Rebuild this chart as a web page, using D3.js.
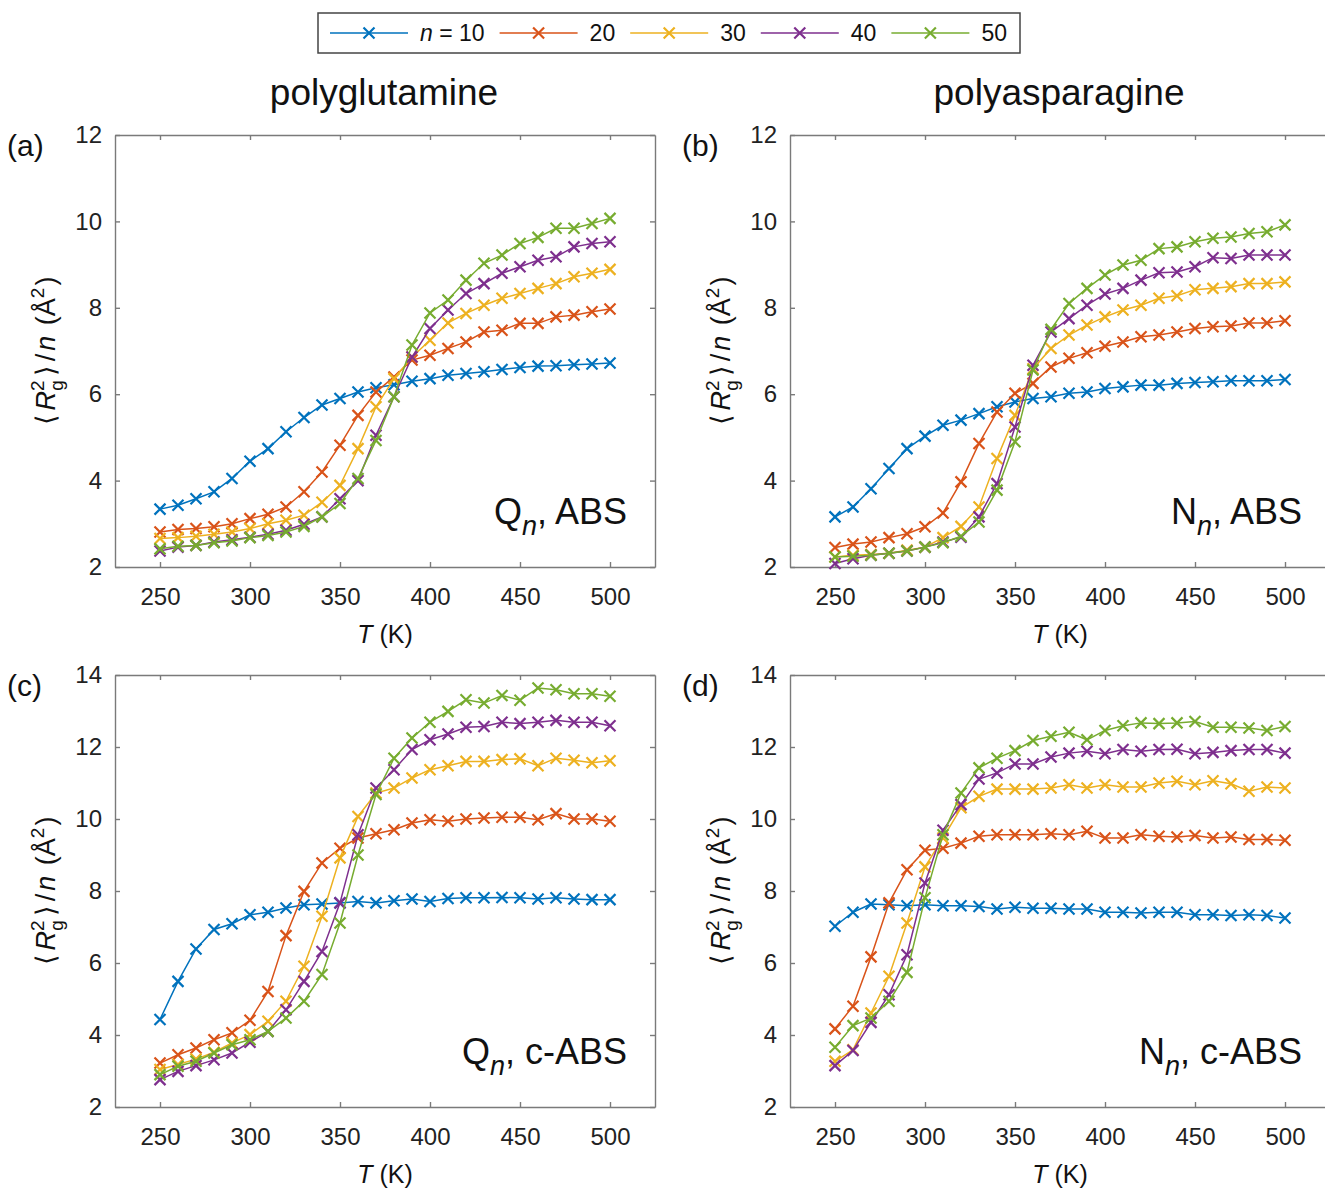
<!doctype html>
<html lang="en">
<head>
  <meta charset="utf-8">
  <title>Rg2/n vs T</title>
  <style>
    body { margin: 0; background: #fff; }
    svg { display: block; font-family: "Liberation Sans", Arial, Helvetica, sans-serif; }
    .axis path, .axis line { stroke: #7a7a7a; stroke-width: 1.4; }
    .axis text { fill: #222; font-size: 24px; font-family: "Liberation Sans", Arial, sans-serif; }
    .series path { fill: none; stroke-width: 1.5; }
    .series .mk { stroke-width: 2.2; }
  </style>
</head>
<body>
  <div id="chart"></div>
  <script src="https://cdn.jsdelivr.net/npm/d3@7"></script>
  <script>
// temperatures (K)
var temps = [250,260,270,280,290,300,310,320,330,340,350,360,370,380,390,400,410,420,430,440,450,460,470,480,490,500];
var chainLengths = ["10", "20", "30", "40", "50"];
var colors = ["#0072BD", "#D95319", "#EDB120", "#7E2F8E", "#77AC30"];
var xTicks = [250, 300, 350, 400, 450, 500];

// (a) polyglutamine, ABS
var a10 = [3.34,3.43,3.58,3.74,4.05,4.45,4.74,5.13,5.46,5.75,5.90,6.05,6.15,6.22,6.30,6.36,6.44,6.48,6.52,6.57,6.62,6.65,6.66,6.68,6.70,6.72];
var a20 = [2.81,2.87,2.89,2.93,3.00,3.12,3.22,3.39,3.74,4.20,4.82,5.51,6.05,6.40,6.79,6.90,7.06,7.21,7.44,7.48,7.64,7.64,7.79,7.83,7.91,7.97];
var a30 = [2.66,2.68,2.71,2.76,2.81,2.89,3.00,3.08,3.20,3.50,3.89,4.74,5.71,6.36,6.86,7.25,7.65,7.87,8.06,8.22,8.33,8.45,8.56,8.72,8.80,8.89];
var a40 = [2.37,2.46,2.50,2.58,2.63,2.69,2.76,2.85,2.99,3.16,3.58,4.00,5.05,5.94,6.86,7.52,7.95,8.33,8.56,8.80,8.95,9.10,9.18,9.41,9.49,9.53];
var a50 = [2.42,2.48,2.50,2.56,2.60,2.68,2.73,2.81,2.94,3.16,3.47,4.05,4.93,5.94,7.14,7.88,8.18,8.64,9.03,9.22,9.49,9.63,9.84,9.84,9.95,10.07];

// (b) polyasparagine, ABS
var b10 = [3.16,3.39,3.81,4.28,4.74,5.03,5.28,5.40,5.55,5.71,5.82,5.90,5.94,6.02,6.05,6.13,6.17,6.21,6.21,6.25,6.27,6.29,6.31,6.31,6.31,6.34];
var b20 = [2.45,2.53,2.58,2.68,2.77,2.93,3.25,3.97,4.86,5.59,6.02,6.25,6.63,6.83,6.96,7.11,7.21,7.33,7.37,7.44,7.52,7.56,7.58,7.65,7.65,7.70];
var b30 = [2.23,2.27,2.29,2.32,2.39,2.46,2.68,2.94,3.39,4.51,5.51,6.59,7.06,7.37,7.60,7.79,7.95,8.06,8.22,8.28,8.42,8.45,8.49,8.56,8.56,8.60];
var b40 = [2.08,2.19,2.27,2.32,2.37,2.46,2.58,2.69,3.16,3.93,5.24,6.67,7.44,7.75,8.06,8.32,8.45,8.64,8.81,8.83,8.95,9.16,9.14,9.22,9.22,9.22];
var b50 = [2.23,2.25,2.27,2.32,2.37,2.46,2.56,2.71,3.04,3.78,4.90,6.56,7.50,8.10,8.45,8.76,8.99,9.10,9.37,9.41,9.53,9.61,9.64,9.72,9.76,9.92];

// (c) polyglutamine, c-ABS
var c10 = [4.43,5.49,6.39,6.93,7.09,7.34,7.41,7.53,7.62,7.64,7.67,7.71,7.67,7.73,7.78,7.71,7.79,7.81,7.81,7.82,7.81,7.78,7.81,7.78,7.76,7.76];
var c20 = [3.22,3.45,3.64,3.87,4.06,4.41,5.21,6.76,7.99,8.78,9.19,9.47,9.59,9.70,9.89,9.98,9.94,10.00,10.03,10.05,10.05,9.98,10.15,10.00,10.00,9.94];
var c30 = [3.04,3.18,3.33,3.52,3.78,4.01,4.38,4.94,5.91,7.30,8.92,10.07,10.72,10.86,11.14,11.37,11.48,11.60,11.60,11.65,11.67,11.48,11.69,11.63,11.56,11.62];
var c40 = [2.76,2.99,3.15,3.31,3.50,3.80,4.10,4.70,5.49,6.32,7.67,9.56,10.86,11.37,11.93,12.20,12.36,12.55,12.57,12.69,12.65,12.69,12.74,12.69,12.69,12.59];
var c50 = [2.90,3.13,3.27,3.50,3.73,3.87,4.10,4.47,4.94,5.68,7.11,9.00,10.68,11.69,12.25,12.69,12.99,13.31,13.22,13.43,13.30,13.64,13.59,13.48,13.48,13.41];

// (d) polyasparagine, c-ABS
var d10 = [7.02,7.41,7.64,7.62,7.59,7.62,7.59,7.59,7.57,7.50,7.55,7.52,7.52,7.50,7.50,7.41,7.41,7.39,7.41,7.41,7.34,7.34,7.32,7.34,7.32,7.25];
var d20 = [4.17,4.80,6.17,7.67,8.59,9.13,9.19,9.33,9.52,9.56,9.56,9.56,9.59,9.56,9.66,9.47,9.47,9.56,9.52,9.50,9.54,9.47,9.50,9.43,9.43,9.41];
var d30 = [3.27,3.59,4.61,5.63,7.11,8.67,9.47,10.31,10.63,10.83,10.83,10.83,10.86,10.95,10.86,10.95,10.89,10.89,11.00,11.05,10.95,11.06,10.98,10.77,10.89,10.86];
var d40 = [3.15,3.57,4.35,5.12,6.23,8.22,9.69,10.40,11.11,11.28,11.53,11.53,11.72,11.83,11.88,11.81,11.93,11.88,11.93,11.94,11.81,11.85,11.90,11.93,11.93,11.83];
var d50 = [3.66,4.26,4.47,4.94,5.74,7.81,9.56,10.72,11.42,11.69,11.90,12.18,12.30,12.41,12.20,12.46,12.59,12.67,12.65,12.67,12.71,12.55,12.55,12.53,12.46,12.57];

(function() {
  var width = 1325, height = 1192;
  var boxW = 540, boxH = 432;

  var panels = [
    { tag: "(a)", left: 115, top: 135, yMax: 12, res: "Q", model: "ABS",   data: [a10, a20, a30, a40, a50] },
    { tag: "(b)", left: 790, top: 135, yMax: 12, res: "N", model: "ABS",   data: [b10, b20, b30, b40, b50] },
    { tag: "(c)", left: 115, top: 675, yMax: 14, res: "Q", model: "c-ABS", data: [c10, c20, c30, c40, c50] },
    { tag: "(d)", left: 790, top: 675, yMax: 14, res: "N", model: "c-ABS", data: [d10, d20, d30, d40, d50] }
  ];

  var svg = d3.select("#chart").append("svg")
      .attr("width", width)
      .attr("height", height);

  // cross marker, drawn around (0,0)
  var cross = function(sel, r) {
    sel.append("path").attr("class", "mk")
      .attr("d", "M" + (-r) + "," + (-r) + "L" + r + "," + r + "M" + (-r) + "," + r + "L" + r + "," + (-r));
  };

  // column titles
  svg.append("text").attr("x", 384).attr("y", 105).attr("text-anchor", "middle")
     .style("font-size", "37px").attr("fill", "#111").text("polyglutamine");
  svg.append("text").attr("x", 1059).attr("y", 105).attr("text-anchor", "middle")
     .style("font-size", "37px").attr("fill", "#111").text("polyasparagine");

  panels.forEach(function(p) {
    var x = d3.scaleLinear().domain([225, 525]).range([p.left, p.left + boxW]);
    var y = d3.scaleLinear().domain([2, p.yMax]).range([p.top + boxH, p.top]);
    var yTicks = d3.range(2, p.yMax + 1, 2);

    var g = svg.append("g");

    g.append("g").attr("class", "axis")
      .attr("transform", "translate(0," + (p.top + boxH) + ")")
      .call(d3.axisBottom(x).tickValues(xTicks).tickSizeInner(-5).tickSizeOuter(0).tickPadding(21));
    g.append("g").attr("class", "axis")
      .attr("transform", "translate(0," + p.top + ")")
      .call(d3.axisTop(x).tickValues(xTicks).tickSizeInner(-5).tickSizeOuter(0).tickFormat(""));
    g.append("g").attr("class", "axis")
      .attr("transform", "translate(" + p.left + ",0)")
      .call(d3.axisLeft(y).tickValues(yTicks).tickSizeInner(-5).tickSizeOuter(0).tickPadding(13));
    g.append("g").attr("class", "axis")
      .attr("transform", "translate(" + (p.left + boxW) + ",0)")
      .call(d3.axisRight(y).tickValues(yTicks).tickSizeInner(-5).tickSizeOuter(0).tickFormat(""));

    // series, n = 10 first so n = 50 ends on top
    var line = d3.line().x(function(d, i) { return x(temps[i]); }).y(function(d) { return y(d); });
    p.data.forEach(function(vals, k) {
      var s = g.append("g").attr("class", "series").attr("stroke", colors[k]);
      s.append("path").attr("d", line(vals));
      vals.forEach(function(v, i) {
        var m = s.append("g").attr("transform", "translate(" + x(temps[i]) + "," + y(v) + ")");
        cross(m, 5.5);
      });
    });

    // panel tag
    svg.append("text").attr("x", p.left - 108).attr("y", p.top + 21)
       .style("font-size", "30px").attr("fill", "#111").text(p.tag);

    // x label
    var xl = svg.append("text").attr("x", p.left + boxW / 2).attr("y", p.top + boxH + 76)
       .attr("text-anchor", "middle").style("font-size", "25px").attr("fill", "#111");
    xl.append("tspan").style("font-style", "italic").text("T");
    xl.append("tspan").text(" (K)");

    // y label
    var cy = p.top + boxH / 2;
    var yl = svg.append("text").attr("transform", "translate(" + (p.left - 60) + "," + cy + ") rotate(-90)")
       .attr("text-anchor", "middle").style("font-size", "27px").attr("fill", "#111");
    yl.append("tspan").text("\u27E8");
    yl.append("tspan").attr("dx", 4).style("font-style", "italic").text("R");
    yl.append("tspan").attr("dy", -11).style("font-size", "19px").text("2");
    yl.append("tspan").attr("dx", -10.5).attr("dy", 19).style("font-size", "19px").text("g");
    yl.append("tspan").attr("dx", 4).attr("dy", -8).text("\u27E9");
    yl.append("tspan").attr("dx", 4).text("/");
    yl.append("tspan").attr("dx", 3).style("font-style", "italic").text("n");
    yl.append("tspan").attr("dx", 3).text(" (\u00C5");
    yl.append("tspan").attr("dy", -11).style("font-size", "19px").text("2");
    yl.append("tspan").attr("dx", 2).attr("dy", 11).text(")");

    // residue / model annotation
    var an = svg.append("text").attr("x", p.left + boxW - 28).attr("y", p.top + boxH - 43)
       .attr("text-anchor", "end").style("font-size", "36px").attr("fill", "#111");
    an.append("tspan").text(p.res);
    an.append("tspan").attr("dy", 11).style("font-size", "27px").style("font-style", "italic").text("n");
    an.append("tspan").attr("dy", -11).text(", " + p.model);
  });

  // legend
  var leg = svg.append("g");
  leg.append("rect").attr("x", 318).attr("y", 13).attr("width", 702).attr("height", 40)
     .attr("fill", "#fff").attr("stroke", "#444").attr("stroke-width", 1.5);
  var sx = 330;
  chainLengths.forEach(function(n, k) {
    var e = leg.append("g").attr("class", "series").attr("stroke", colors[k]);
    e.append("path").attr("d", "M" + sx + ",33H" + (sx + 78));
    cross(e.append("g").attr("transform", "translate(" + (sx + 39) + ",33)"), 5.5);
    var t = leg.append("text").attr("x", sx + 90).attr("y", 41).style("font-size", "23px").attr("fill", "#111");
    if (k === 0) {
      t.append("tspan").style("font-style", "italic").text("n");
      t.append("tspan").text(" = " + n);
    } else {
      t.text(n);
    }
    sx = sx + 90 + t.node().getComputedTextLength() + 15;
  });
})();
  </script>
</body>
</html>
